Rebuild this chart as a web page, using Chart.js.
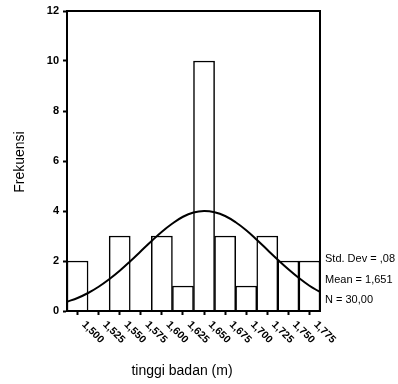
<!DOCTYPE html>
<html>
<head>
<meta charset="utf-8">
<title>Histogram tinggi badan</title>
<script src="https://cdn.jsdelivr.net/npm/chart.js@4/dist/chart.umd.min.js"></script>
<style>
  body { margin: 0; background: #fff; }
  canvas { display: block; }
</style>
</head>
<body>
<canvas id="chart" width="398" height="384"></canvas>
<script>
// bin midpoints (m) and the labels printed under them
const binMids = [1.500, 1.525, 1.550, 1.575, 1.600, 1.625, 1.650, 1.675, 1.700, 1.725, 1.750, 1.775];
const tickLabels = ['1,500', '1,525', '1,550', '1,575', '1,600', '1,625', '1,650', '1,675', '1,700', '1,725', '1,750', '1,775'];
// frequency per bin
const counts = [2, 0, 3, 0, 3, 1, 10, 3, 1, 3, 2, 2];

// normal curve, every half bin
const curveX = [1.4875, 1.5, 1.5125, 1.525, 1.5375, 1.55, 1.5625, 1.575, 1.5875, 1.6, 1.6125, 1.625, 1.6375,
                1.65, 1.6625, 1.675, 1.6875, 1.7, 1.7125, 1.725, 1.7375, 1.75, 1.7625, 1.775, 1.7875];
const curveY = [0.37, 0.52, 0.72, 0.97, 1.27, 1.61, 1.99, 2.39, 2.79, 3.17, 3.50, 3.77, 3.94,
                4.00, 3.95, 3.80, 3.55, 3.23, 2.85, 2.45, 2.05, 1.67, 1.32, 1.01, 0.76];

const statLines = ['Std. Dev = ,08', 'Mean = 1,651', 'N = 30,00'];
const yTitle = 'Frekuensi';
const xTitle = 'tinggi badan (m)';

const FONT = '"Liberation Sans", Arial, sans-serif';

// frame, slanted tick labels, stats box and axis titles
const extras = {
  id: 'extras',
  afterDraw(chart) {
    const { ctx, chartArea: a, scales: { x, y } } = chart;
    ctx.save();
    ctx.strokeStyle = '#000';
    ctx.lineWidth = 2;
    ctx.strokeRect(a.left, a.top, a.right - a.left, a.bottom - a.top);

    ctx.fillStyle = '#000';
    ctx.font = 'bold 10.5px ' + FONT;
    ctx.textAlign = 'left';
    ctx.textBaseline = 'middle';
    binMids.forEach((v, i) => {
      ctx.save();
      ctx.translate(x.getPixelForValue(v) + 6, a.bottom + 12);
      ctx.rotate(Math.PI / 4);
      ctx.fillText(tickLabels[i], 0, 0);
      ctx.restore();
    });

    ctx.font = '11px ' + FONT;
    const y0 = y.getPixelForValue(2) - 2;
    statLines.forEach((s, i) => ctx.fillText(s, a.right + 5, y0 + i * 20.7));

    ctx.font = '14px ' + FONT;
    ctx.textAlign = 'center';
    ctx.fillText(xTitle, 182, 371);

    ctx.save();
    ctx.translate(20, 162);
    ctx.rotate(-Math.PI / 2);
    ctx.fillText(yTitle, 0, 0);
    ctx.restore();
    ctx.restore();
  }
};

new Chart(document.getElementById('chart'), {
  type: 'bar',
  data: {
    datasets: [
      {
        type: 'line',
        data: curveX.map((v, i) => ({ x: v, y: curveY[i] })),
        borderColor: '#000',
        borderWidth: 2,
        pointRadius: 0,
        tension: 0.4,
        fill: false,
        order: 0
      },
      {
        data: binMids.map((v, i) => ({ x: v, y: counts[i] })),
        backgroundColor: '#fff',
        borderColor: '#000',
        borderWidth: 1.5,
        barPercentage: 1,
        categoryPercentage: 1,
        order: 1
      }
    ]
  },
  options: {
    responsive: false,
    devicePixelRatio: 1,
    animation: false,
    layout: { padding: { left: 0, right: 78, top: 11, bottom: 0 } },
    plugins: {
      legend: { display: false },
      tooltip: { enabled: false }
    },
    scales: {
      x: {
        type: 'linear',
        min: 1.4875,
        max: 1.7875,
        offset: false,
        afterBuildTicks: scale => { scale.ticks = binMids.map(v => ({ value: v })); },
        afterFit: scale => { scale.height = 73; },
        ticks: { display: false },
        grid: {
          offset: false,
          drawOnChartArea: false,
          tickLength: 4,
          tickColor: '#000',
          tickWidth: 2
        },
        border: { color: '#000', width: 2 }
      },
      y: {
        min: 0,
        max: 12,
        afterFit: scale => { scale.width = 67; },
        ticks: {
          stepSize: 2,
          color: '#000',
          padding: 4,
          font: { family: FONT, size: 11, weight: 'bold' }
        },
        grid: {
          drawOnChartArea: false,
          tickLength: 4,
          tickColor: '#000',
          tickWidth: 2
        },
        border: { color: '#000', width: 2 }
      }
    }
  },
  plugins: [extras]
});
</script>
</body>
</html>
